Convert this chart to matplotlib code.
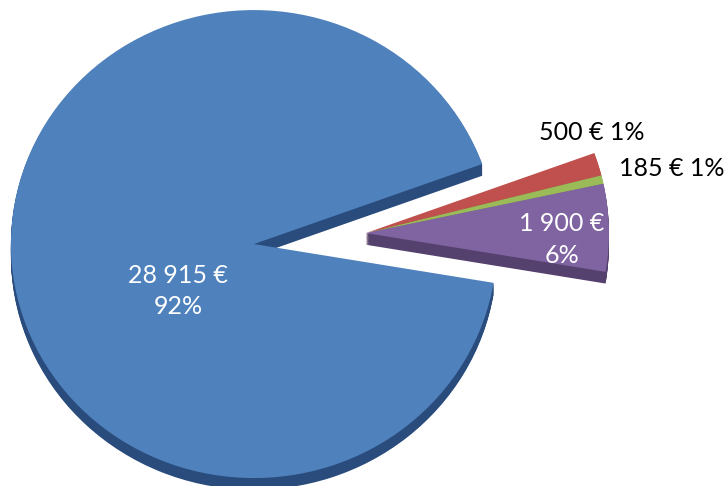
import matplotlib.pyplot as plt

# slices in clockwise order starting from the top of the gap
amounts = [500, 185, 1900, 28915]
texts = ['500 € 1%', '185 € 1%', '1 900 €\n6%', '28 915 €\n92%']
exploded = [True, True, True, False]
top_colors = ['#C0504D', '#9BBB59', '#8064A2', '#4F81BD']
side_colors = ['#943F3C', '#789342', '#55416E', '#2A4C7D']

text_pos = [(1.391, 0.478), (1.720, 0.325), (1.267, 0.02), (-0.313, -0.2)]
text_colors = ['black', 'black', 'white', 'white']

plt.rcParams['font.family'] = ['Lato', 'DejaVu Sans']

fig = plt.figure(figsize=(7.28, 4.86), dpi=100)
ax = fig.add_axes([0, 0, 1, 1])

depth = 0.05
n_layers = 14
shift = (0.461, 0.047)


def draw_group(center, in_group, colors, dy):
    cols = [c if g else 'none' for c, g in zip(colors, in_group)]
    ax.pie(amounts, colors=cols, startangle=20, counterclock=False,
           radius=1, center=(center[0], center[1] - dy),
           wedgeprops=dict(linewidth=0, edgecolor='none', antialiased=True))


groups = [((0, 0), [not e for e in exploded]), (shift, exploded)]

# fake 3d: stacked layers for the side, then the top surface
for center, in_group in groups:
    for i in range(n_layers, 0, -1):
        draw_group(center, in_group, side_colors, depth * i / n_layers)
for center, in_group in groups:
    draw_group(center, in_group, top_colors, 0)

for t, (x, y), c in zip(texts, text_pos, text_colors):
    ax.text(x, y, t, color=c, fontsize=18, ha='center', va='center',
            linespacing=1.45)

ax.set_aspect('auto')
ax.set_xlim(-1.045, 1.951)
ax.set_ylim(-1.034, 1.043)
ax.axis('off')

fig.savefig('out.png', dpi=100)
